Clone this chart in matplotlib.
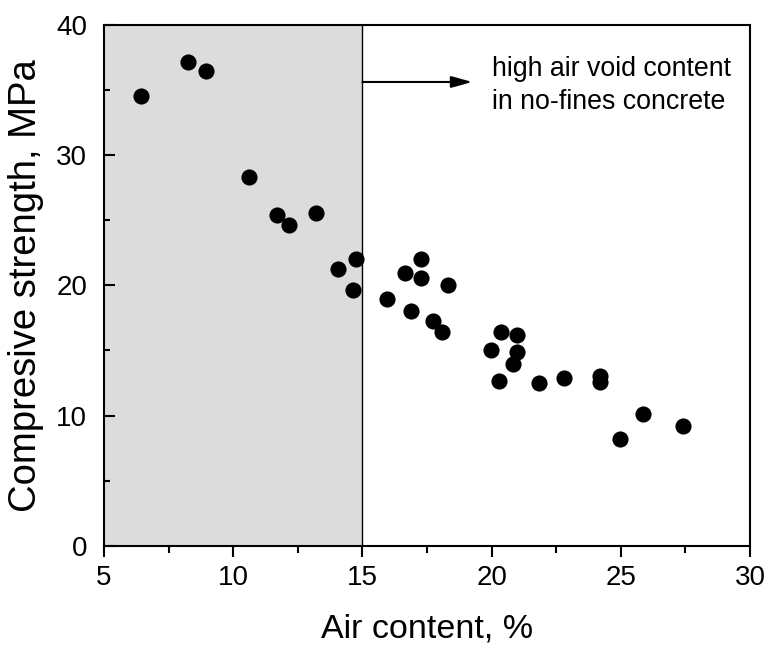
import matplotlib
matplotlib.use("Agg")
import matplotlib.pyplot as plt
from matplotlib.ticker import MultipleLocator

plt.rcParams['font.family'] = ['Liberation Sans', 'DejaVu Sans']

air = [6.43, 8.24, 8.95, 10.6, 11.71, 12.17, 13.19, 14.06, 14.75, 14.62,
       15.95, 16.66, 17.28, 17.28, 18.31, 16.89, 17.74, 18.07, 20.35, 20.97,
       19.96, 20.97, 20.81, 20.27, 21.84, 22.79, 24.21, 24.21, 25.85, 24.98, 27.42]
strength = [34.5, 37.14, 36.45, 28.32, 25.41, 24.62, 25.54, 21.22, 21.99, 19.63,
            18.97, 20.96, 21.99, 20.53, 20.02, 18.05, 17.25, 16.43, 16.43, 16.18,
            15.03, 14.88, 13.96, 12.68, 12.53, 12.88, 13.04, 12.6, 10.12, 8.18, 9.23]

threshold = 15
annot_text = "high air void content\nin no-fines concrete"

fig = plt.figure(figsize=(7.68, 6.48), dpi=100)
ax = fig.add_axes([0.1354, 0.1574, 0.8412, 0.8046])

ax.axvspan(5, threshold, color='#dcdcdc', zorder=0, lw=0)
ax.axvline(threshold, color='black', lw=1.0, zorder=1)

ax.scatter(air, strength, s=135, color='black', zorder=3, linewidths=0)

ax.annotate('', xy=(19.25, 35.6), xytext=(threshold, 35.6),
            arrowprops=dict(arrowstyle='-|>,head_length=0.9,head_width=0.25', color='black', lw=1.5,
                            mutation_scale=14, shrinkA=0, shrinkB=0))
ax.text(20.0, 35.35, annot_text, fontsize=19.3, va='center', ha='left', linespacing=1.35)

ax.set_xlim(5, 30)
ax.set_ylim(0, 40)
ax.xaxis.set_major_locator(MultipleLocator(5))
ax.xaxis.set_minor_locator(MultipleLocator(2.5))
ax.yaxis.set_major_locator(MultipleLocator(10))
ax.yaxis.set_minor_locator(MultipleLocator(5))

ax.tick_params(axis='x', which='major', direction='out', length=8, width=1.5, labelsize=20, pad=6)
ax.tick_params(axis='x', which='minor', direction='out', length=5, width=1.5)
ax.tick_params(axis='y', which='major', direction='in', length=8, width=1.5, labelsize=20, pad=12)
ax.tick_params(axis='y', which='minor', direction='in', length=4, width=1.5)

for sp in ax.spines.values():
    sp.set_linewidth(1.5)

ax.set_xlabel('Air content, %', fontsize=24.5, labelpad=16)
ax.set_ylabel('Compresive strength, MPa', fontsize=27.5, labelpad=9)

fig.savefig('out.png', dpi=100)
